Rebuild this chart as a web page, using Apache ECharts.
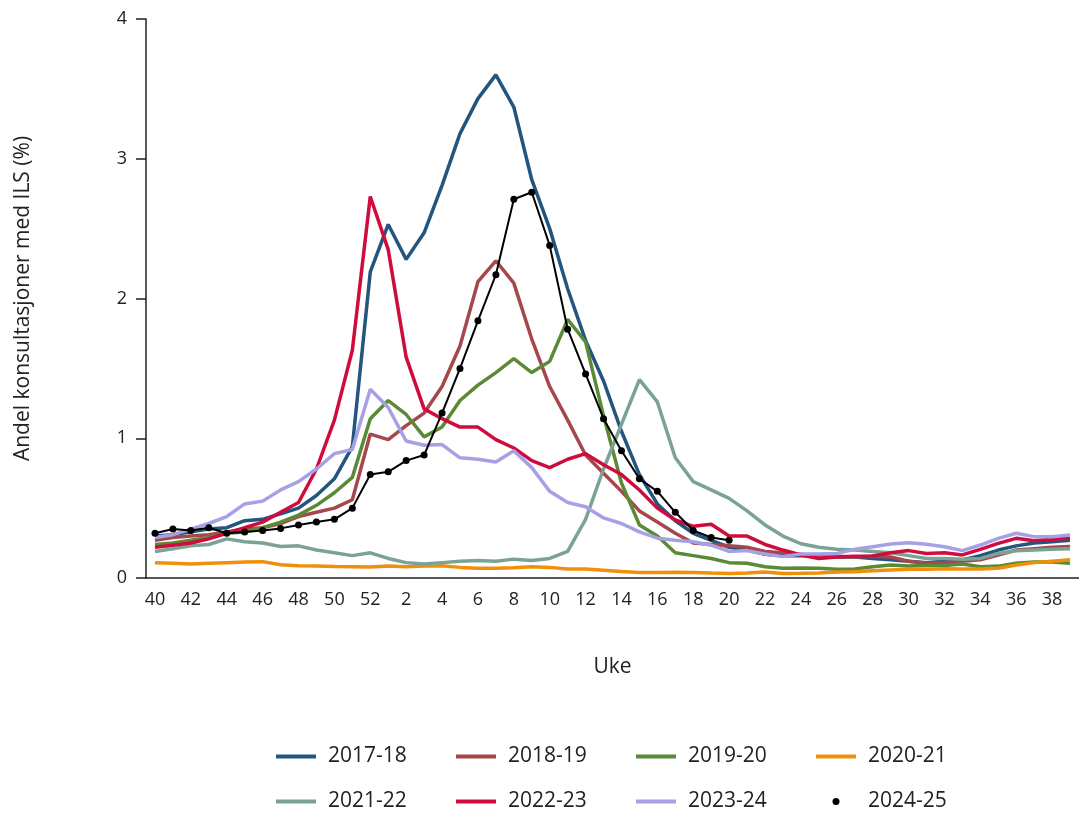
<!DOCTYPE html>
<html>
<head>
<meta charset="utf-8">
<script src="https://cdn.jsdelivr.net/npm/echarts@6/dist/echarts.min.js"></script>
<style>
  html, body { margin: 0; padding: 0; background: #ffffff; }
  #chart { width: 1079px; height: 814px; }
</style>
</head>
<body>
<div id="chart"></div>
<script>
// Season weeks: week 40 through 52, then 1 through 39
const weeks = ['40','41','42','43','44','45','46','47','48','49','50','51','52',
  '1','2','3','4','5','6','7','8','9','10','11','12','13','14','15','16','17','18','19','20',
  '21','22','23','24','25','26','27','28','29','30','31','32','33','34','35','36','37','38','39'];

const seasonNames = ['2017-18','2018-19','2019-20','2020-21','2021-22','2022-23','2023-24','2024-25'];

// Share of consultations with influenza-like illness (%) per week
const s2017_18 = [0.30,0.31,0.33,0.35,0.36,0.41,0.42,0.46,0.50,0.59,0.71,0.94,2.19,
  2.53,2.28,2.47,2.81,3.18,3.43,3.60,3.37,2.85,2.50,2.07,1.70,1.41,1.05,0.74,0.53,0.41,0.32,0.27,0.22,
  0.20,0.17,0.16,0.16,0.16,0.15,0.15,0.14,0.13,0.12,0.11,0.12,0.13,0.16,0.20,0.23,0.25,0.26,0.27];
const s2018_19 = [0.27,0.29,0.30,0.31,0.33,0.35,0.36,0.39,0.44,0.47,0.50,0.56,1.03,
  0.99,1.09,1.18,1.37,1.66,2.12,2.27,2.11,1.71,1.37,1.13,0.88,0.75,0.62,0.48,0.40,0.32,0.25,0.24,0.23,
  0.22,0.19,0.18,0.17,0.155,0.155,0.15,0.155,0.15,0.12,0.105,0.11,0.12,0.13,0.165,0.20,0.21,0.22,0.225];
const s2019_20 = [0.24,0.25,0.27,0.29,0.32,0.33,0.36,0.40,0.45,0.52,0.61,0.72,1.14,
  1.27,1.17,1.01,1.08,1.27,1.38,1.47,1.57,1.47,1.55,1.85,1.69,1.16,0.68,0.38,0.30,0.18,0.16,0.14,0.11,
  0.105,0.08,0.07,0.072,0.07,0.062,0.065,0.08,0.093,0.086,0.09,0.09,0.10,0.08,0.085,0.105,0.115,0.115,0.105];
const s2020_21 = [0.11,0.105,0.10,0.105,0.11,0.115,0.117,0.095,0.088,0.085,0.082,0.08,0.078,
  0.086,0.08,0.085,0.088,0.076,0.07,0.07,0.074,0.08,0.076,0.064,0.064,0.055,0.046,0.04,0.04,0.042,0.04,0.036,0.033,
  0.036,0.043,0.033,0.034,0.036,0.043,0.045,0.052,0.057,0.062,0.063,0.067,0.064,0.064,0.07,0.093,0.11,0.12,0.13];
const s2021_22 = [0.19,0.21,0.23,0.24,0.28,0.26,0.25,0.225,0.23,0.20,0.18,0.16,0.18,
  0.14,0.11,0.10,0.11,0.12,0.125,0.12,0.135,0.125,0.14,0.19,0.42,0.78,1.10,1.42,1.26,0.86,0.69,0.63,0.57,
  0.48,0.38,0.30,0.245,0.22,0.205,0.20,0.19,0.18,0.16,0.14,0.14,0.135,0.14,0.175,0.195,0.20,0.205,0.21];
const s2022_23 = [0.22,0.235,0.25,0.28,0.32,0.36,0.40,0.47,0.54,0.78,1.13,1.63,2.73,
  2.35,1.58,1.21,1.14,1.08,1.08,0.99,0.93,0.84,0.79,0.85,0.89,0.81,0.74,0.63,0.50,0.415,0.37,0.385,0.30,
  0.30,0.24,0.20,0.165,0.14,0.15,0.155,0.157,0.18,0.196,0.176,0.18,0.165,0.205,0.248,0.284,0.267,0.277,0.284];
const s2023_24 = [0.29,0.31,0.35,0.39,0.44,0.53,0.55,0.63,0.69,0.78,0.89,0.92,1.35,
  1.22,0.98,0.95,0.955,0.86,0.85,0.83,0.91,0.79,0.62,0.54,0.51,0.43,0.39,0.33,0.285,0.27,0.26,0.235,0.19,
  0.196,0.172,0.153,0.172,0.172,0.176,0.205,0.224,0.243,0.253,0.241,0.224,0.196,0.236,0.284,0.32,0.296,0.296,0.308];
const s2024_25 = [0.32,0.35,0.34,0.36,0.32,0.33,0.34,0.355,0.38,0.40,0.42,0.50,0.74,
  0.76,0.84,0.88,1.18,1.50,1.84,2.17,2.71,2.76,2.38,1.78,1.46,1.14,0.91,0.71,0.62,0.47,0.34,0.29,0.27];

const yTicks = [0, 1, 2, 3, 4];

const seasonColors = ['#22567f','#a6474d','#5a8a35','#f0900a','#7ba395','#cf0c3d','#a6a1e4','#000000'];
const seasonData = [s2017_18, s2018_19, s2019_20, s2020_21, s2021_22, s2022_23, s2023_24, s2024_25];

const FONT = '"Open Sans", "DejaVu Sans", sans-serif';
// Legend keys: a short thick bar for the lines, a centred dot for the current season.
// The dot path carries zero-length segments at both ends so its box spans the full key width.
const lineIcon = 'path://M0,1.5h40v4h-40z';
const dotIcon = 'path://M0,3.5L0,3.5M40,3.5L40,3.5M16.5,3.5a3.5,3.5 0 1,0 7,0a3.5,3.5 0 1,0 -7,0z';

const series = seasonNames.map((name, k) => {
  const isCurrent = k === seasonNames.length - 1;
  return {
    name: name,
    type: 'line',
    data: seasonData[k],
    color: seasonColors[k],
    showSymbol: isCurrent,
    symbol: isCurrent ? 'circle' : 'none',
    symbolSize: 7,
    z: isCurrent ? 10 : 2 + k,
    lineStyle: { width: isCurrent ? 2 : 3.5, color: seasonColors[k] },
    itemStyle: { color: seasonColors[k] },
    emphasis: { disabled: true },
    animation: false
  };
});

const chart = echarts.init(document.getElementById('chart'), null, { renderer: 'canvas' });
chart.setOption({
  backgroundColor: '#ffffff',
  animation: false,
  textStyle: { fontFamily: FONT },
  grid: { left: 146, top: 19, width: 936, height: 559, containLabel: false },
  legend: {
    data: seasonNames.map((n, k) => ({
      name: n,
      icon: k === seasonNames.length - 1 ? dotIcon : lineIcon
    })),
    left: 271,
    top: 735,
    width: 740,
    itemWidth: 40,
    itemHeight: 7,
    itemGap: 12,
    selectedMode: false,
    textStyle: {
      fontFamily: FONT, fontSize: 21, color: '#222222',
      width: 116, lineHeight: 33, padding: [0, 0, 0, 7]
    }
  },
  xAxis: {
    type: 'category',
    data: weeks,
    boundaryGap: true,
    name: 'Uke',
    nameLocation: 'middle',
    nameGap: 79,
    nameTextStyle: { fontSize: 21, color: '#222222', fontFamily: FONT },
    axisLine: { lineStyle: { color: '#222222', width: 1.5 } },
    axisTick: { alignWithLabel: true, interval: 1, length: 10, lineStyle: { color: '#222222', width: 1.5 } },
    axisLabel: { interval: 1, fontSize: 18, color: '#222222', margin: 13, fontFamily: FONT },
    splitLine: { show: false }
  },
  yAxis: {
    type: 'value',
    min: yTicks[0],
    max: yTicks[yTicks.length - 1],
    interval: 1,
    name: 'Andel konsultasjoner med ILS (%)',
    nameLocation: 'middle',
    nameRotate: 90,
    nameGap: 112,
    nameTextStyle: { fontSize: 21, color: '#222222', fontFamily: FONT },
    axisLine: { show: true, lineStyle: { color: '#222222', width: 1.5 } },
    axisTick: { show: true, length: 10, lineStyle: { color: '#222222', width: 1.5 } },
    axisLabel: { fontSize: 18, color: '#222222', margin: 19, fontFamily: FONT },
    splitLine: { show: false }
  },
  series: series
});
</script>
</body>
</html>
